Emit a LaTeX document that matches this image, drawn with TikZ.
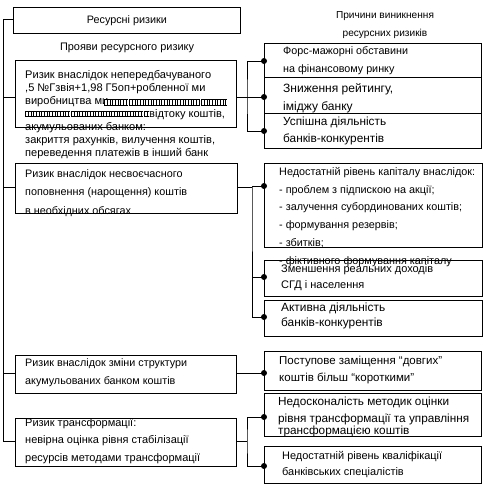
\documentclass[tikz,border=0pt]{standalone}
\usepackage{fontspec}
\setmainfont{Liberation Sans}
\newlength\measw
% #1 target width (pt) of reference line #2, #3 baselineskip
\newcommand{\autofont}[3]{\fontsize{10}{10}\selectfont\settowidth\measw{#2}%
  \pgfmathsetmacro\fszval{10*#1/\measw}\fontsize{\fszval}{#3}\selectfont}
\begin{document}
\begin{tikzpicture}[x=1pt,y=-1pt,
 box/.style={draw, line width=0.8pt, anchor=north west, inner sep=0pt},
 txt/.style={anchor=north west, inner sep=0pt, align=left},
 head/.style={inner sep=0pt, align=center},
 dot/.style={circle, fill, inner sep=0pt, minimum size=6pt},
 conn/.style={line width=0.8pt}]
\useasboundingbox[fill=white] (0,0) rectangle (496,496);
% left boxes
\node[box, minimum width=227pt, minimum height=26pt] (L0) at (13,7) {};
\node[head, font={\autofont{80}{Ресурсні ризики}{13}}] (L0t) at (L0.center) {Ресурсні ризики};
\node[head, font={\autofont{134}{Прояви ресурсного ризику}{13}}] (H1) at (127,48) {Прояви ресурсного ризику};
\node[head, font={\autofont{98}{Причини виникнення}{18}}] (H2) at (385,25) {Причини виникнення\\ресурсних ризиків};
\node[box, minimum width=221pt, minimum height=67pt] (L1) at (15,60) {};
\node[box, minimum width=222pt, minimum height=50pt] (L2) at (15,163) {};
\node[box, minimum width=221pt, minimum height=38pt] (L3) at (15,355) {};
\node[box, minimum width=221pt, minimum height=48pt] (L4) at (15,418) {};
% right boxes
\node[box, minimum width=217pt, minimum height=34pt] (R1) at (264,43) {};
\node[box, minimum width=217pt, minimum height=36pt] (R2) at (264,77) {};
\node[box, minimum width=217pt, minimum height=35pt] (R3) at (264,113) {};
\node[box, minimum width=218pt, minimum height=84pt] (R4) at (264,163) {};
\node[box, minimum width=218pt, minimum height=36pt] (R5) at (264,260) {};
\node[box, minimum width=218pt, minimum height=36pt] (R6) at (264,300) {};
\node[box, minimum width=217pt, minimum height=39pt] (R7) at (264,351) {};
\node[box, minimum width=217pt, minimum height=43pt] (R8) at (264,393) {};
\node[box, minimum width=217pt, minimum height=37pt] (R9) at (264,446) {};
% texts
\node[txt, font={\autofont{186}{Ризик внаслідок непередбачуваного}{13}}] (L1t) at (25,70) {Ризик внаслідок непередбачуваного\\
,5 №Гзвія+1,98 Г5оп+робленної ми\\
виробництва ми\\
\hspace*{124pt}відтоку коштів,\\
акумульованих банком:\\
закриття рахунків, вилучення коштів,\\
переведення платежів в інший банк};
\node[txt, font={\autofont{162}{поповнення (нарощення) коштів}{18.5}}] (L2t) at (25,169) {Ризик внаслідок несвоєчасного\\поповнення (нарощення) коштів\\в необхідних обсягах};
\node[txt, font={\autofont{162}{Ризик внаслідок зміни структури}{18.3}}] (L3t) at (25,358) {Ризик внаслідок зміни структури\\акумульованих банком коштів};
\node[txt, font={\autofont{175}{ресурсів методами трансформації}{17.5}}] (L4t) at (25,418) {Ризик трансформації:\\невірна оцінка рівня стабілізації\\ресурсів методами трансформації};
\node[txt, font={\autofont{125}{Форс-мажорні обставини}{18}}] (R1t) at (283,46) {Форс-мажорні обставини\\на фінансовому ринку};
\node[txt, font={\autofont{110}{Зниження рейтингу,}{18}}] (R2t) at (283,83) {Зниження рейтингу,\\іміджу банку};
\node[txt, font={\autofont{103}{Успішна діяльність}{17}}] (R3t) at (283,117) {Успішна діяльність\\банків-конкурентів};
\node[txt, font={\autofont{196}{Недостатній рівень капіталу внаслідок:}{17.8}}] (R4t) at (279,167) {Недостатній рівень капіталу внаслідок:\\- проблем з підпискою на акції;\\- залучення субординованих коштів;\\- формування резервів;\\- збитків;\\- фіктивного формування капіталу};
\node[txt, font={\autofont{152}{Зменшення реальних доходів}{16}}] (R5t) at (281,264) {Зменшення реальних доходів\\СГД і населення};
\node[txt, font={\autofont{104}{Активна діяльність}{14.5}}] (R6t) at (281,303) {Активна діяльність\\банків-конкурентів};
\node[txt, font={\autofont{163}{Поступове заміщення ``довгих''}{16.5}}] (R7t) at (279,356) {Поступове заміщення ``довгих''\\коштів більш ``короткими''};
\node[txt, font={\autofont{191}{рівня трансформації та управління}{17}}] (R8t) at (278,397) {Недосконалість методик оцінки\\рівня трансформації та управління\\[-5pt]трансформацією коштів};
\node[txt, font={\autofont{160}{Недостатній рівень кваліфікації}{16.5}}] (R9t) at (282,451) {Недостатній рівень кваліфікації\\банківських спеціалістів};
% garbled strips
\foreach \a/\b/\c/\d in {104/128/99/106, 129/200/99/106, 201/227/99/106, 25/70/111/117, 71/143/111/117, 144/149/111/117}{
  \fill (\a,\c) rectangle (\b,\d);
  \pgfmathsetmacro{\nxt}{\a+1.6}
  \foreach \xx in {\a,\nxt,...,\b}{\draw[white, line width=0.3pt] (\xx+0.8,\c+1) -- (\xx+0.8,\d-1);}
}
% spine
\coordinate (s0) at (3,19);
\coordinate (s1) at (3,97);
\coordinate (s2) at (3,187);
\coordinate (s3) at (3,373);
\coordinate (s4) at (3,441);
\draw[conn] (L0.west |- s0) -- (s0) -- (s4) -- (L4.west |- s4);
\draw[conn] (s1) -- (L1.west |- s1);
\draw[conn] (s2) -- (L2.west |- s2);
\draw[conn] (s3) -- (L3.west |- s3);
% dots
\node[dot] (d1) at (264,61) {};
\node[dot] (d2) at (264,97) {};
\node[dot] (d3) at (264,131) {};
\node[dot] (d4) at (264,186) {};
\node[dot] (d5) at (264,277) {};
\node[dot] (d6) at (264,317) {};
\node[dot] (d7) at (264,373) {};
\node[dot] (d8) at (264,417) {};
\node[dot] (d9) at (264,466) {};
% right connectors
\coordinate (j1) at (247,97);
\coordinate (j2) at (252,187);
\coordinate (j4) at (247,441);
\draw[conn] (L1.east |- j1) -- (j1);
\draw[conn] (d1.center) -| (j1) |- (d3.center);
\draw[conn] (j1) -- (d2.center);
\draw[conn] (L2.east |- j2) -- (j2);
\draw[conn] (d4.center) -| (j2) |- (d6.center);
\draw[conn] (j2 |- d5) -- (d5.center);
\draw[conn] (L3.east |- d7) -- (d7.center);
\draw[conn] (L4.east |- j4) -- (j4);
\draw[conn] (d8.center) -| (j4) |- (d9.center);
\end{tikzpicture}
\end{document}
